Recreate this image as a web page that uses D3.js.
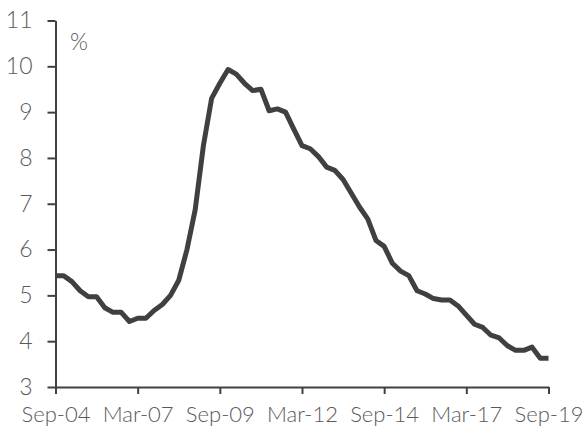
<!DOCTYPE html>
<html>
<head>
<meta charset="utf-8">
<script src="https://cdn.jsdelivr.net/npm/d3@7"></script>
<style>
  body { margin: 0; background: #fff; }
  text { font-family: "Lato", "Open Sans", sans-serif; font-weight: 300; }
</style>
</head>
<body>
<div id="chart"></div>
<script>
// quarterly unemployment rate, Sep-04 .. Sep-19
var values = [5.43, 5.43, 5.30, 5.10, 4.97, 4.97, 4.73, 4.63, 4.63, 4.43,
  4.50, 4.50, 4.67, 4.80, 5.00, 5.33, 6.00, 6.87, 8.27, 9.30,
  9.63, 9.93, 9.83, 9.63, 9.47, 9.50, 9.03, 9.07, 9.00, 8.63,
  8.27, 8.20, 8.03, 7.80, 7.73, 7.53, 7.23, 6.93, 6.67, 6.20,
  6.07, 5.70, 5.53, 5.43, 5.10, 5.03, 4.93, 4.90, 4.90, 4.77,
  4.57, 4.37, 4.30, 4.13, 4.07, 3.90, 3.80, 3.80, 3.87, 3.63, 3.63];
var xTickPos = [0, 10, 20, 30, 40, 50, 60];
var xTickLabels = ["Sep-04", "Mar-07", "Sep-09", "Mar-12", "Sep-14", "Mar-17", "Sep-19"];
var yTicks = [3, 4, 5, 6, 7, 8, 9, 10, 11];
var unitLabel = "%";

var width = 585, height = 427;

var svg = d3.select("#chart").append("svg")
    .attr("width", width)
    .attr("height", height);

var x = d3.scaleLinear().domain([0, 60]).range([55.5, 548.5]);
var y = d3.scaleLinear().domain([3, 11]).range([387, 20.5]);

var axisColor = "#404040";
var textColor = "#5a5a5a";

// y axis
var gy = svg.append("g")
    .attr("transform", "translate(55.5,0)")
    .call(d3.axisLeft(y).tickValues(yTicks).tickSize(8).tickSizeOuter(0).tickPadding(15));
// x axis
var gx = svg.append("g")
    .attr("transform", "translate(0,387)")
    .call(d3.axisBottom(x).tickValues(xTickPos).tickSize(7).tickSizeOuter(0).tickPadding(12)
      .tickFormat(function(d, i) { return xTickLabels[i]; }));

[gx, gy].forEach(function(g) {
  g.selectAll("path, line").attr("stroke", axisColor).attr("stroke-width", 2);
});
gy.selectAll("text").attr("fill", textColor).style("font-size", "23px");
gx.selectAll("text").attr("fill", textColor).style("font-size", "22px");

svg.append("text")
  .attr("x", 70)
  .attr("y", 50)
  .attr("fill", textColor)
  .style("font-size", "23px")
  .text(unitLabel);

var line = d3.line()
  .x(function(d, i) { return x(i); })
  .y(function(d) { return y(d); });

svg.append("path")
  .datum(values)
  .attr("d", line)
  .attr("fill", "none")
  .attr("stroke", "#404040")
  .attr("stroke-width", 5)
  .attr("stroke-linejoin", "round");
</script>
</body>
</html>
